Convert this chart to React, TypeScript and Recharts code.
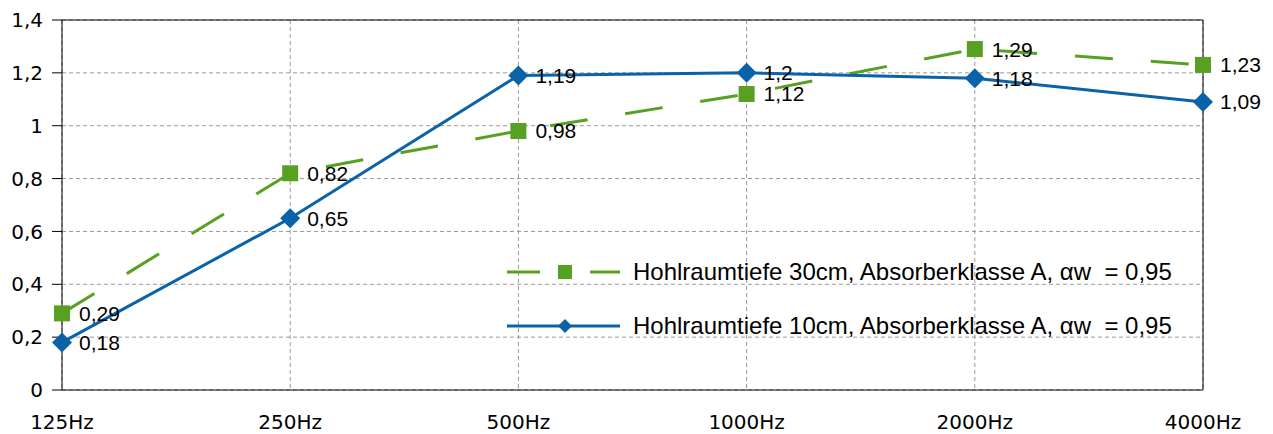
import { LineChart, Line, XAxis, YAxis, CartesianGrid, ReferenceLine, Legend, LabelList } from 'recharts';

const frequencies = ['125Hz', '250Hz', '500Hz', '1000Hz', '2000Hz', '4000Hz'];
const depth30 = [0.29, 0.82, 0.98, 1.12, 1.29, 1.23];
const depth10 = [0.18, 0.65, 1.19, 1.2, 1.18, 1.09];
const yTicks = [0, 0.2, 0.4, 0.6, 0.8, 1, 1.2, 1.4];

const label30 = 'Hohlraumtiefe 30cm, Absorberklasse A, αw  = 0,95';
const label10 = 'Hohlraumtiefe 10cm, Absorberklasse A, αw  = 0,95';

const GREEN = '#58a022';
const BLUE = '#0a63a8';

const data = frequencies.map((f, i) => ({ freq: f, d30: depth30[i], d10: depth10[i] }));

const comma = (v: any) => String(v).replace('.', ',');

// Marker shapes
const SquareDot = (props: any) => {
    const { cx, cy } = props;
    if (cx == null || cy == null) return null;
    return <rect x={cx - 8} y={cy - 8} width={16} height={16} fill={GREEN} />;
};

const DiamondDot = (props: any) => {
    const { cx, cy } = props;
    if (cx == null || cy == null) return null;
    return <path d={`M${cx},${cy - 10}L${cx + 10},${cy}L${cx},${cy + 10}L${cx - 10},${cy}Z`} fill={BLUE} />;
};

// Legend
const LegendContent = () => (
    <div style={{ fontFamily: '"Liberation Sans", Arial, sans-serif', fontSize: 24, color: '#000', whiteSpace: 'pre' }}>
        <div style={{ display: 'flex', alignItems: 'center', height: 54 }}>
            <svg width={126} height={20}>
                <line x1={0} y1={10} x2={33} y2={10} stroke={GREEN} strokeWidth={3} />
                <rect x={51} y={3} width={14} height={14} fill={GREEN} />
                <line x1={83} y1={10} x2={113} y2={10} stroke={GREEN} strokeWidth={3} />
            </svg>
            <span>{label30}</span>
        </div>
        <div style={{ display: 'flex', alignItems: 'center', height: 54 }}>
            <svg width={126} height={20}>
                <line x1={0} y1={10} x2={113} y2={10} stroke={BLUE} strokeWidth={3} />
                <path d="M58,3L65,10L58,17L51,10Z" fill={BLUE} />
            </svg>
            <span>{label10}</span>
        </div>
    </div>
);

export default function App() {
    return (
        <div style={{ position: 'absolute', left: 0, top: 0, background: '#fff' }}>
            <LineChart
                width={1273}
                height={434}
                data={data}
                margin={{ top: 20, right: 70, left: 10, bottom: 0 }}
            >
                <CartesianGrid stroke="#999" strokeDasharray="4 3" />
                <XAxis
                    dataKey="freq"
                    height={44}
                    tickLine={false}
                    tickSize={0}
                    tickMargin={25}
                    axisLine={{ stroke: '#000' }}
                    tick={{ fontSize: 20, fill: '#000', fontFamily: '"DejaVu Sans", sans-serif' }}
                    interval={0}
                />
                <YAxis
                    domain={[0, 1.4]}
                    ticks={yTicks}
                    width={52}
                    tickSize={10}
                    tickMargin={9}
                    axisLine={{ stroke: '#000' }}
                    tickLine={{ stroke: '#000' }}
                    tickFormatter={comma}
                    tick={{ fontSize: 20, fill: '#000', fontFamily: '"DejaVu Sans", sans-serif' }}
                />
                <ReferenceLine y={1.4} stroke="#000" />
                <ReferenceLine x="4000Hz" stroke="#000" />
                <Legend
                    layout="vertical"
                    align="center"
                    verticalAlign="middle"
                    content={<LegendContent />}
                    wrapperStyle={{ left: 507, top: 245, width: 720 }}
                />

                {/* 30cm */}
                <Line
                    type="linear"
                    dataKey="d30"
                    stroke={GREEN}
                    strokeWidth={3}
                    strokeDasharray="38 38"
                    dot={<SquareDot />}
                    activeDot={false}
                    isAnimationActive={false}
                >
                    <LabelList
                        dataKey="d30"
                        position="right"
                        offset={17}
                        formatter={comma}
                        style={{ fontSize: 21, fill: '#000', fontFamily: '"Liberation Sans", Arial, sans-serif' }}
                    />
                </Line>

                {/* 10cm */}
                <Line
                    type="linear"
                    dataKey="d10"
                    stroke={BLUE}
                    strokeWidth={3}
                    dot={<DiamondDot />}
                    activeDot={false}
                    isAnimationActive={false}
                >
                    <LabelList
                        dataKey="d10"
                        position="right"
                        offset={17}
                        formatter={comma}
                        style={{ fontSize: 21, fill: '#000', fontFamily: '"Liberation Sans", Arial, sans-serif' }}
                    />
                </Line>
            </LineChart>
        </div>
    );
}
